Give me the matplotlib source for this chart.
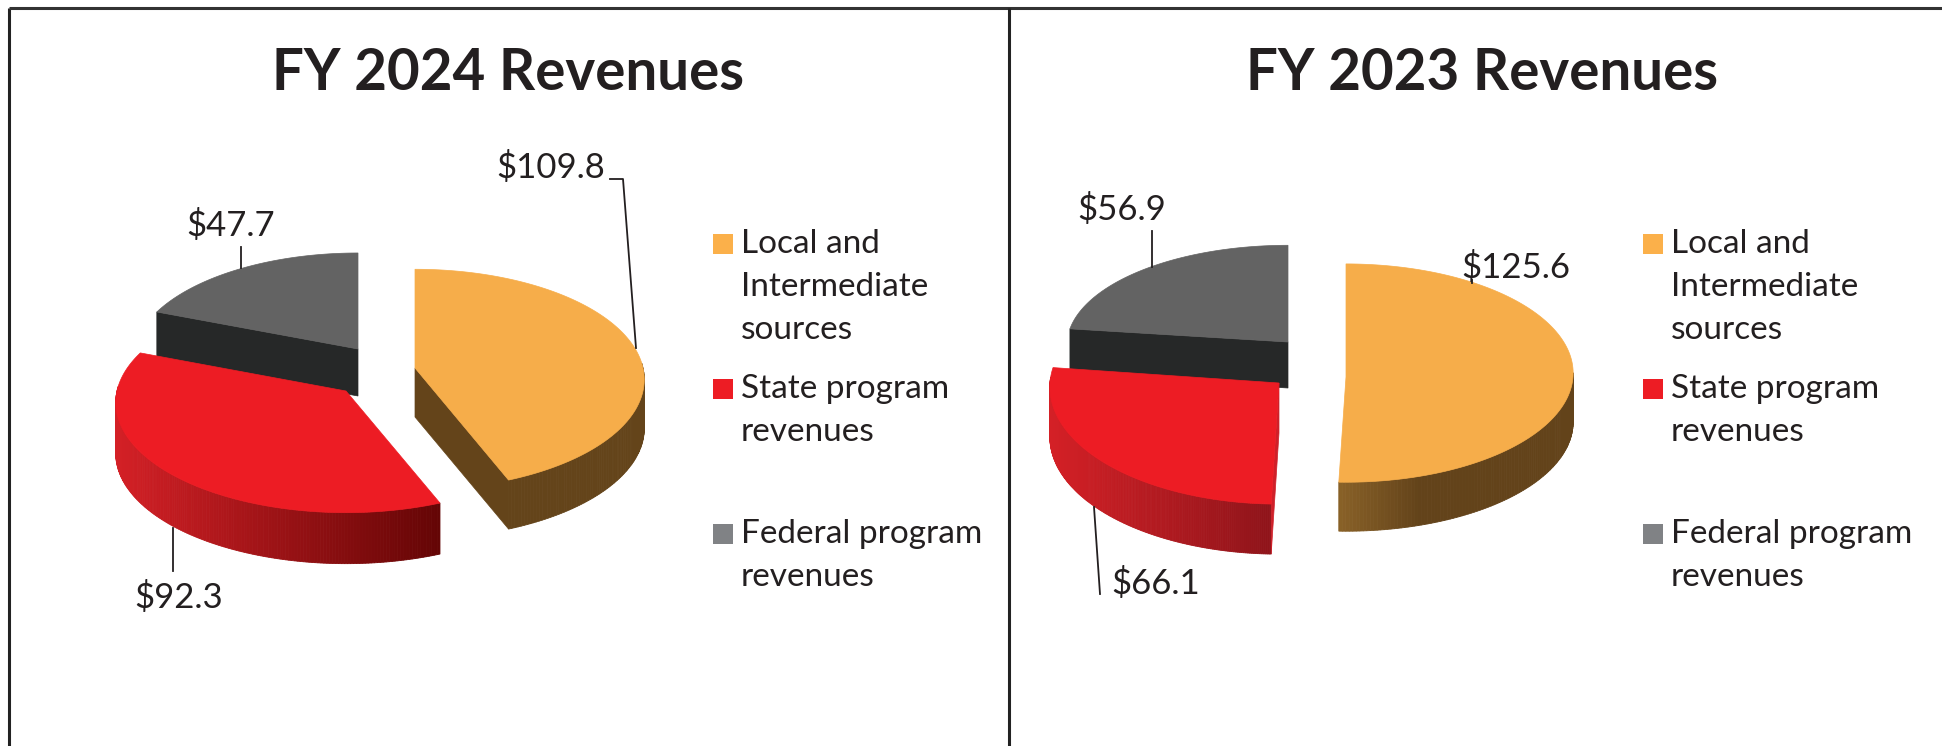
from matplotlib import pyplot as plt
from matplotlib.colors import to_rgb
from matplotlib.patches import Polygon, Rectangle
import numpy as np

categories = ['Local and\nIntermediate\nsources', 'State program\nrevenues', 'Federal program\nrevenues']
titles = ['FY 2024 Revenues', 'FY 2023 Revenues']
values_2024 = [109.8, 92.3, 47.7]
values_2023 = [125.6, 66.1, 56.9]

top_colors = ['#f6ad4a', '#ed1c24', '#636363']
face_colors = ['#64441a', '#cf2029', '#262828']
legend_colors = ['#fbb04a', '#ed1c24', '#808285']

# вершина сектора на картинке, rx, ry, перспектива k, высота
layout_2024 = [((415, 368), 228, 109, 0.104, 49),
               ((346, 391), 229, 109, 0.104, 51),
               ((358, 349), 224, 106, 0.104, 47)]
layout_2023 = [((1346, 377), 227, 109, -0.036, 49),
               ((1279, 383), 229, 117, 0.034, 50),
               ((1288, 342), 221, 100, 0.034, 46)]
# цвета боковой стенки: слева, справа, доля ширины до правого цвета
walls_2024 = [('#64441a', '#64441a', 1), ('#d42026', '#640505', 1), ('#262828', '#262828', 1)]
walls_2023 = [('#8a6228', '#63431a', 0.35), ('#d42026', '#8f141a', 1), ('#262828', '#262828', 1)]

fig = plt.figure(figsize=(19.42, 7.46), dpi=100)
ax = fig.add_axes([0, 0, 1, 1])
ax.set_xlim(0, 1942)
ax.set_ylim(746, 0)
ax.axis('off')
plt.rcParams['font.family'] = ['Lato', 'DejaVu Sans']


def project(theta, apex, rx, ry, k, r=1.0):
    s = 1 / (1 + k * r * np.cos(theta))
    x = apex[0] + rx * r * np.sin(theta) * s
    y = apex[1] - ry * r * np.cos(theta) * s
    return x, y


def draw_slice(start, end, layout, top, face, wall, z):
    apex, rx, ry, k, depth = layout
    theta = np.linspace(start, end, 200)
    x, y = project(theta, apex, rx, ry, k)

    # наружная стенка
    front = np.cos(theta) < 0.05
    fx, fy = x[front], y[front]
    if len(fx) > 1:
        c0, c1 = np.array(to_rgb(wall[0])), np.array(to_rgb(wall[1]))
        for i in range(len(fx) - 1):
            t = (fx[i] - fx.min()) / (fx.max() - fx.min()) / wall[2]
            col = c0 + (c1 - c0) * min(t, 1)
            quad = [(fx[i], fy[i]), (fx[i + 1], fy[i + 1]),
                    (fx[i + 1], fy[i + 1] + depth), (fx[i], fy[i] + depth)]
            ax.add_patch(Polygon(quad, fc=col, ec=col, lw=0.6, zorder=z))

    # боковые грани разреза
    if np.sin(start) < -1e-6:
        ax.add_patch(Polygon([apex, (x[0], y[0]), (x[0], y[0] + depth), (apex[0], apex[1] + depth)],
                             fc=face, ec=face, lw=0.5, zorder=z))
    if np.sin(end) > 1e-6:
        ax.add_patch(Polygon([apex, (x[-1], y[-1]), (x[-1], y[-1] + depth), (apex[0], apex[1] + depth)],
                             fc=face, ec=face, lw=0.5, zorder=z))

    pts = [apex] + list(zip(x, y))
    ax.add_patch(Polygon(pts, fc=top, ec=top, lw=0.5, zorder=z + 0.5))


def draw_pie(values, layouts, walls):
    bounds = np.concatenate([[0], np.cumsum(values)]) / np.sum(values) * 2 * np.pi
    for i in [2, 0, 1]:
        draw_slice(bounds[i], bounds[i + 1], layouts[i], top_colors[i], face_colors[i], walls[i], 2 + i_order[i])


i_order = {2: 0, 0: 1, 1: 2}
draw_pie(values_2024, layout_2024, walls_2024)
draw_pie(values_2023, layout_2023, walls_2023)

# рамка
ax.plot([9, 9], [746, 8], color='#222222', lw=2.2, solid_capstyle='butt')
ax.plot([9, 1942], [8, 8], color='#333333', lw=2.2, solid_capstyle='butt')
ax.plot([1009, 1009], [8, 746], color='#222222', lw=2.2, solid_capstyle='butt')

# заголовки
ax.text(508, 73, titles[0], ha='center', va='center', fontsize=40.7, fontweight='bold', color='#231f20')
ax.text(1482, 73, titles[1], ha='center', va='center', fontsize=40.7, fontweight='bold', color='#231f20')

# подписи значений
text_color = '#231f20'
label_pos = [[(551, 168), (179, 597), (231, 225)], [(1516, 267), (1156, 583), (1122, 210)]]
for vals, positions in zip([values_2024, values_2023], label_pos):
    for v, pos in zip(vals, positions):
        ax.text(pos[0], pos[1], f'${v}', ha='center', va='center', fontsize=25, color=text_color, zorder=10)

leaders = [[(610, 623, 636), (179, 179, 348)],
           [(241, 241), (247, 268)],
           [(173, 173), (528, 571)],
           [(1152, 1152), (231, 267)],
           [(1472, 1472), (280, 283)],
           [(1094, 1100), (507, 594)]]
for lx, ly in leaders:
    ax.plot(lx, ly, color=text_color, lw=1.3, zorder=9)

# легенда
legend_y = [244, 389, 534]
for dx in [0, 930]:
    for name, col, ly in zip(categories, legend_colors, legend_y):
        ax.add_patch(Rectangle((713 + dx, ly - 10), 20, 20, fc=col, ec='none'))
        for j, line in enumerate(name.split('\n')):
            ax.text(741 + dx, ly + j * 43, line, ha='left', va='center', fontsize=24, color=text_color)

fig.savefig('out.png', dpi=100)
